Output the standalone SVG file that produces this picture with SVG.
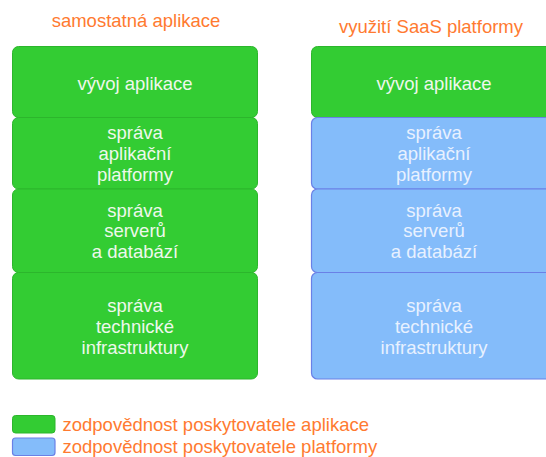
<svg xmlns="http://www.w3.org/2000/svg" width="546" height="457" viewBox="0 0 546 457">
<style>
text{font-family:"Liberation Sans",Arial,sans-serif;font-size:18.5px;}
.t{fill:#ff7a30;}
.g{fill:#33cc33;stroke:#2cb62c;stroke-width:1;}
.b{fill:#84bcfa;stroke:#6a80e6;stroke-width:1.2;}
.w{fill:#eef8ec;text-anchor:middle;}
.wb{fill:#e8f1ff;text-anchor:middle;}
</style>
<rect width="546" height="457" fill="#ffffff"/>
<text class="t" x="136" y="27" text-anchor="middle">samostatná aplikace</text>
<text class="t" x="431" y="33" text-anchor="middle">využití SaaS platformy</text>
<g id="left-vyvoj"><rect class="g" x="12.5" y="46.5" width="245" height="71" rx="6"/><text class="w" x="135" y="90">vývoj aplikace</text></g>
<g id="left-platforma"><rect class="g" x="12.5" y="117.5" width="245" height="71.5" rx="6"/><text class="w" x="135" y="139">správa</text><text class="w" x="135" y="160">aplikační</text><text class="w" x="135" y="181">platformy</text></g>
<g id="left-servery"><rect class="g" x="12.5" y="189" width="245" height="83.5" rx="6"/><text class="w" x="135" y="216.5">správa</text><text class="w" x="135" y="237">serverů</text><text class="w" x="135" y="257.5">a databází</text></g>
<g id="left-infra"><rect class="g" x="12.5" y="272.5" width="245" height="106.5" rx="6"/><text class="w" x="135" y="312">správa</text><text class="w" x="135" y="333">technické</text><text class="w" x="135" y="353.5">infrastruktury</text></g>
<g id="right-vyvoj"><rect class="g" x="311.5" y="46.5" width="245" height="71" rx="6"/><text class="w" x="434" y="90">vývoj aplikace</text></g>
<g id="right-platforma"><rect class="b" x="311.5" y="117.5" width="245" height="71.5" rx="6"/><text class="wb" x="434" y="139">správa</text><text class="wb" x="434" y="160">aplikační</text><text class="wb" x="434" y="181">platformy</text></g>
<g id="right-servery"><rect class="b" x="311.5" y="189" width="245" height="83.5" rx="6"/><text class="wb" x="434" y="216.5">správa</text><text class="wb" x="434" y="237">serverů</text><text class="wb" x="434" y="257.5">a databází</text></g>
<g id="right-infra"><rect class="b" x="311.5" y="272.5" width="245" height="106.5" rx="6"/><text class="wb" x="434" y="312">správa</text><text class="wb" x="434" y="333">technické</text><text class="wb" x="434" y="353.5">infrastruktury</text></g>
<g id="legend">
<rect class="g" x="12.5" y="415.5" width="42.5" height="17.5" rx="3"/>
<text class="t" x="62.5" y="431">zodpovědnost poskytovatele aplikace</text>
<rect class="b" x="12.5" y="438" width="42.5" height="17.5" rx="3"/>
<text class="t" x="62.5" y="453">zodpovědnost poskytovatele platformy</text>
</g>
<g id="connectors"/>
</svg>
